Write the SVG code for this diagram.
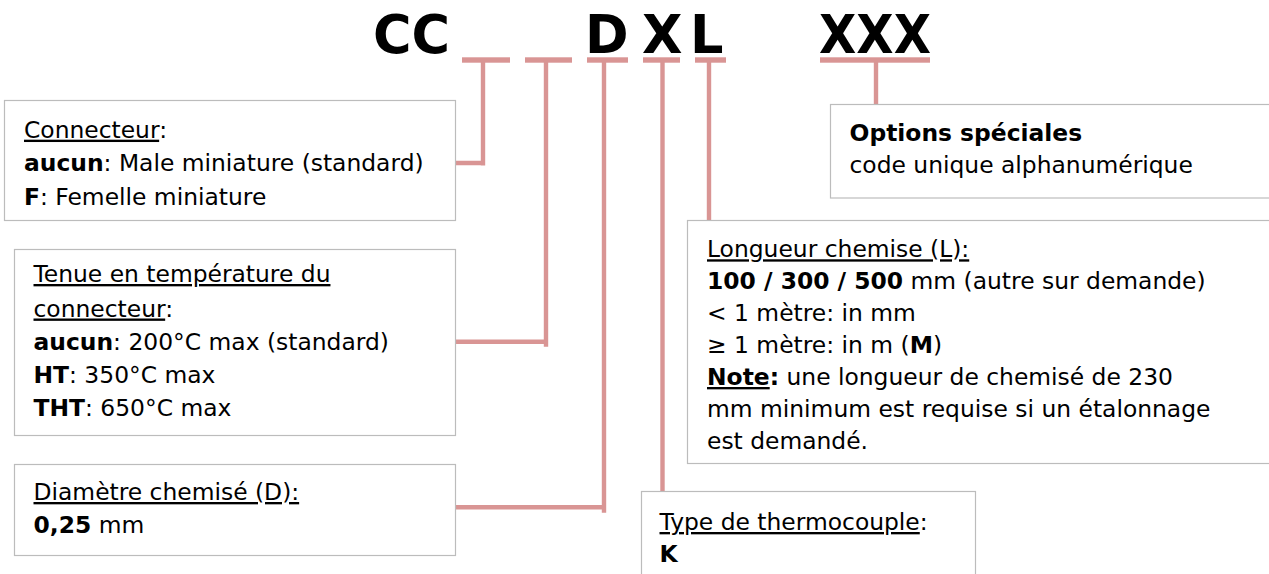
<svg xmlns="http://www.w3.org/2000/svg" width="1269" height="574" viewBox="0 0 1269 574">
<style>
.t{font-family:"DejaVu Sans",Verdana,sans-serif;font-size:23.4px;fill:#000}
.b{font-weight:bold}
.u{text-decoration:underline}
.title{font-family:"DejaVu Sans",Verdana,sans-serif;font-size:52.5px;font-weight:bold;fill:#000}
.box{fill:#fff;stroke:#bcbcbc;stroke-width:1.2}
.c{stroke:#d99594;stroke-width:4.4;fill:none}
.bar{fill:#d99594}
</style>
<rect width="1269" height="574" fill="#fff"/>
<g id="title">
<text class="title" x="373" y="53.3">CC</text>
<text class="title" x="585" y="53.3">D</text>
<text class="title" x="642" y="53.3">X</text>
<text class="title" x="690" y="53.3">L</text>
<text class="title" x="819" y="53.3" textLength="112" lengthAdjust="spacingAndGlyphs">XXX</text>
</g>
<g id="connectors">
<rect class="bar" x="462" y="57.3" width="48" height="5.4"/>
<rect class="bar" x="525" y="57.3" width="47" height="5.4"/>
<rect class="bar" x="587" y="57.3" width="41" height="5.4"/>
<rect class="bar" x="643" y="57.3" width="37" height="5.4"/>
<rect class="bar" x="695" y="57.3" width="31" height="5.4"/>
<rect class="bar" x="820" y="57.3" width="110" height="5.4"/>
<path class="c" d="M483,60 V165.5 M456,163 H485.2"/>
<path class="c" d="M546,60 V346.7 M456,341.7 H548.2"/>
<path class="c" d="M604,60 V512.7 M456,507.3 H606.2"/>
<path class="c" d="M662.5,60 V492"/>
<path class="c" d="M709,60 V220.5"/>
<path class="c" d="M876,60 V104.5"/>
</g>
<g id="node-connecteur">
<rect class="box" x="4.5" y="100.5" width="451" height="120"/>
<text class="t" x="24" y="137.7"><tspan class="u">Connecteur</tspan>:</text>
<text class="t" x="24" y="171.3"><tspan class="b">aucun</tspan>: Male miniature (standard)</text>
<text class="t" x="24" y="205"><tspan class="b">F</tspan>: Femelle miniature</text>
</g>
<g id="node-tenue">
<rect class="box" x="14.5" y="249.5" width="441" height="186"/>
<text class="t" x="33.5" y="282"><tspan class="u">Tenue en température du</tspan></text>
<text class="t" x="33.5" y="316.5"><tspan class="u">connecteur</tspan>:</text>
<text class="t" x="33.5" y="350"><tspan class="b">aucun</tspan>: 200°C max (standard)</text>
<text class="t" x="33.5" y="383"><tspan class="b">HT</tspan>: 350°C max</text>
<text class="t" x="33.5" y="416"><tspan class="b">THT</tspan>: 650°C max</text>
</g>
<g id="node-diametre">
<rect class="box" x="14.5" y="464.5" width="441" height="91"/>
<text class="t" x="33.5" y="500"><tspan class="u">Diamètre chemisé (D):</tspan></text>
<text class="t" x="33.5" y="533.3"><tspan class="b">0,25</tspan> mm</text>
</g>
<g id="node-type">
<rect class="box" x="641.5" y="491.5" width="334" height="100"/>
<text class="t" x="659.5" y="530"><tspan class="u">Type de thermocouple</tspan>:</text>
<text class="t" x="659.5" y="561.7"><tspan class="b">K</tspan></text>
</g>
<g id="node-longueur">
<rect class="box" x="687.5" y="220.5" width="600" height="243"/>
<text class="t" x="707" y="257.3"><tspan class="u">Longueur chemise (L):</tspan></text>
<text class="t" x="707" y="289.3"><tspan class="b">100 / 300 / 500</tspan> mm (autre sur demande)</text>
<text class="t" x="707" y="320.7">&lt; 1 mètre: in mm</text>
<text class="t" x="707" y="353.3">≥ 1 mètre: in m (<tspan class="b">M</tspan>)</text>
<text class="t" x="707" y="385"><tspan class="b u">Note</tspan><tspan class="b">:</tspan> une longueur de chemisé de 230</text>
<text class="t" x="707" y="416.7">mm minimum est requise si un étalonnage</text>
<text class="t" x="707" y="449.3">est demandé.</text>
</g>
<g id="node-options">
<rect class="box" x="830.5" y="104.5" width="500" height="93.5"/>
<text class="t" x="849.5" y="140.7"><tspan class="b">Options spéciales</tspan></text>
<text class="t" x="849.5" y="173.3">code unique alphanumérique</text>
</g>
</svg>
